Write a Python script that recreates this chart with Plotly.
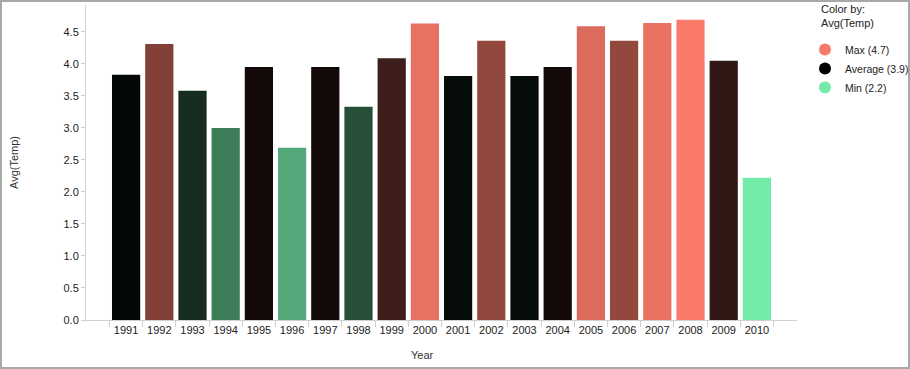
import plotly.graph_objects as go
import numpy as np

years = [str(y) for y in range(1991, 2011)]
avg_temp = [3.83, 4.31, 3.58, 3.00, 3.95, 2.69, 3.95, 3.33, 4.09, 4.63,
            3.81, 4.36, 3.81, 3.95, 4.59, 4.36, 4.64, 4.69, 4.05, 2.22]

COL_MAX = "#fa7a6a"
COL_AVG = "#000000"
COL_MIN = "#73eba8"

vmin, vmax, vavg = min(avg_temp), max(avg_temp), float(np.mean(avg_temp))
mid = (vavg - vmin) / (vmax - vmin)

W, H = 910, 369
L, R, T, B = 86, 113, 5, 49
pw, ph = W - L - R, H - T - B
FONT = "Liberation Sans, Arial, sans-serif"

fig = go.Figure()
fig.add_trace(go.Bar(
    x=years, y=avg_temp,
    marker=dict(color=avg_temp, cmin=vmin, cmax=vmax,
                colorscale=[[0, COL_MIN], [mid, COL_AVG], [1, COL_MAX]],
                line=dict(width=0)),
    showlegend=False, hoverinfo="x+y",
))
for name, val, col in [("Max", vmax, COL_MAX), ("Average", vavg, COL_AVG), ("Min", vmin, COL_MIN)]:
    fig.add_trace(go.Scatter(x=[None], y=[None], mode="markers",
                             marker=dict(color=col, size=12, symbol="circle"),
                             name=f"{name} ({val:.1f})"))

pad = 23.5 / (pw / 21.42)
fig.update_layout(
    width=W, height=H,
    margin=dict(l=L, r=R, t=T, b=B, autoexpand=False),
    plot_bgcolor="white", paper_bgcolor="white",
    font=dict(family=FONT, size=11, color="#222222"),
    bargap=0.15,
    xaxis=dict(type="category", range=[-0.5 - pad, 19.5 + pad], tickangle=0,
               showline=True, linecolor="#d0d0d0", linewidth=1, automargin=False,
               ticks="outside", tickson="boundaries", ticklen=6, tickcolor="#d0d0d0",
               showgrid=False, zeroline=False, tickfont=dict(size=11)),
    yaxis=dict(range=[0, 4.92], dtick=0.5, tickformat=".1f", automargin=False,
               showline=True, linecolor="#d0d0d0", linewidth=1,
               ticks="outside", ticklen=4, tickcolor="#d0d0d0",
               showgrid=False, zeroline=False, tickfont=dict(size=11),
               title=dict(text="Avg(Temp)", standoff=42, font=dict(size=11, color="#333333"))),
    legend=dict(xref="container", yref="container",
                x=805 / W, y=1 - 35 / H, xanchor="left", yanchor="top",
                font=dict(size=10.5), itemsizing="constant", tracegroupgap=0,
                bgcolor="rgba(0,0,0,0)"),
    annotations=[
        dict(text="Color by:<br>Avg(Temp)", xref="paper", yref="paper",
             x=(819 - L) / pw, y=(ph + T - 1) / ph, align="left",
             xanchor="left", yanchor="top", showarrow=False,
             font=dict(size=11, color="#222222")),
        dict(text="Year", xref="paper", yref="paper",
             x=(422 - L) / pw, y=-(355 - T - ph) / ph,
             xanchor="center", yanchor="middle", showarrow=False,
             font=dict(size=11, color="#333333")),
    ],
    shapes=[dict(type="rect", xref="paper", yref="paper",
                 x0=(-L + 1) / pw, x1=(W - L - 1) / pw,
                 y0=-(B - 1) / ph, y1=(ph + T - 1) / ph,
                 line=dict(color="#a8a8a8", width=2), layer="above")],
)
fig.write_html("out.html", config={"displayModeBar": False},
               post_script="document.body.style.margin='0';")
